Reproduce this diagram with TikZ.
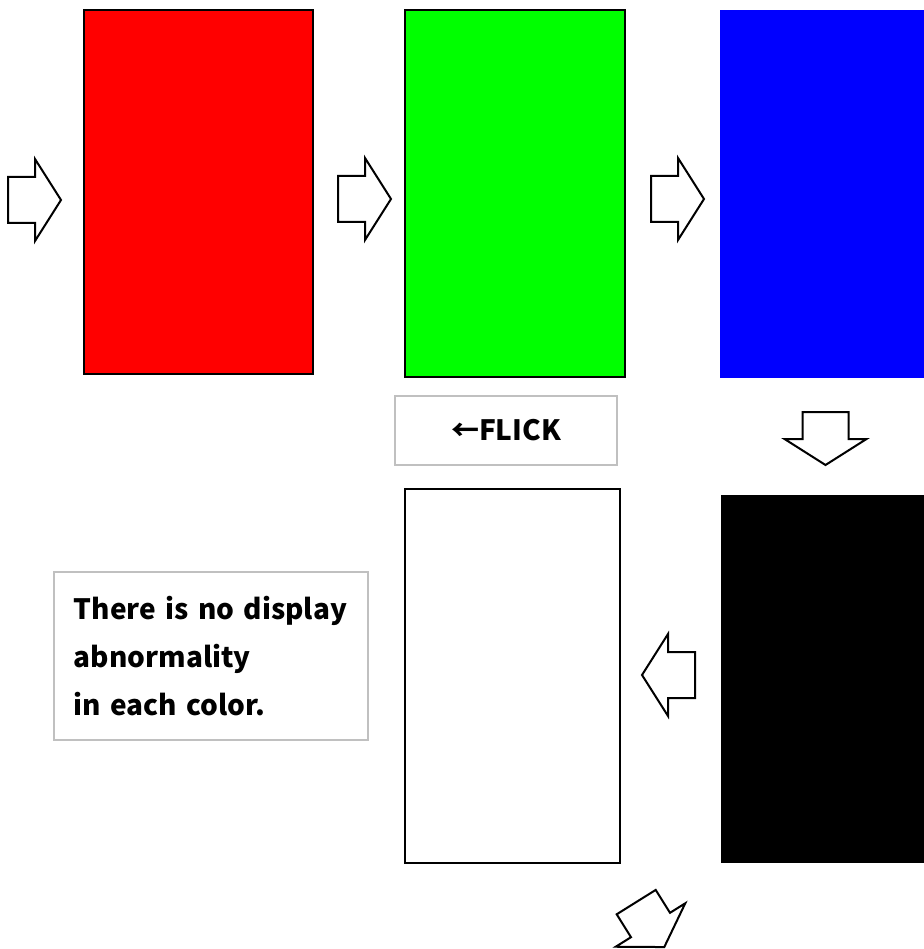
\documentclass[tikz,border=0pt]{standalone}
\usepackage{fontspec}
\newfontfamily\jpfont{Noto Sans CJK JP}
\definecolor{screenred}{HTML}{FF0000}
\definecolor{screengreen}{HTML}{00FF00}
\definecolor{screenblue}{HTML}{0000FF}
\definecolor{framegray}{HTML}{C0C0C0}
\usetikzlibrary{positioning}

\begin{document}
\begin{tikzpicture}[
  x=1pt, y=-1pt,
  every node/.style={font=\jpfont\bfseries\fontsize{28}{48}\selectfont},
  screen/.style={rectangle, draw=black, line width=1.6pt, inner sep=0pt,
                 anchor=north west},
  note/.style={rectangle, draw=framegray, line width=1.8pt, inner sep=0pt},
  flow/.pic={\draw[line width=2pt, fill=white]
    (-27,-23) -- (0,-23) -- (0,-41) -- (26,0) -- (0,41) -- (0,23) -- (-27,23) -- cycle;}
]
  \useasboundingbox (0,0) rectangle (923,949);

  % screens
  \node[screen, fill=screenred, minimum width=229pt, minimum height=364pt] (red)
    at (83,9) {};
  \node[screen, fill=screengreen, minimum width=220pt, minimum height=367pt] (green)
    at (404,9) {};
  \node[screen, fill=screenblue, draw=none, minimum width=204pt, minimum height=368pt] (blue)
    at (719,9) {};
  \node[screen, fill=black, draw=none, minimum width=203pt, minimum height=368pt] (black)
    at (720,494) {};
  \node[screen, fill=white, minimum width=215pt, minimum height=374pt] (white)
    at (404,488) {};

  % notes
  \node[note, minimum width=222pt, minimum height=69pt] (flick)
    at (506,430.5) {←FLICK};
  \node[note, anchor=north west, inner xsep=20pt, text width=274pt,
        minimum height=168pt, align=left] (msg)
    at (53,571) {There is no display\\ abnormality\\ in each color.};

  % block arrows
  \pic (flowA) at (35,200) {flow};
  \pic (flowB) at (365,199) {flow};
  \pic (flowC) at (678,199) {flow};
  \pic[rotate=-90] (flowD) at (825.5,439) {flow};
  \pic[rotate=180] (flowE) at (668,675) {flow};
  \pic[rotate=-58] (flowF) at (650.5,925) {flow};
\end{tikzpicture}
\end{document}
